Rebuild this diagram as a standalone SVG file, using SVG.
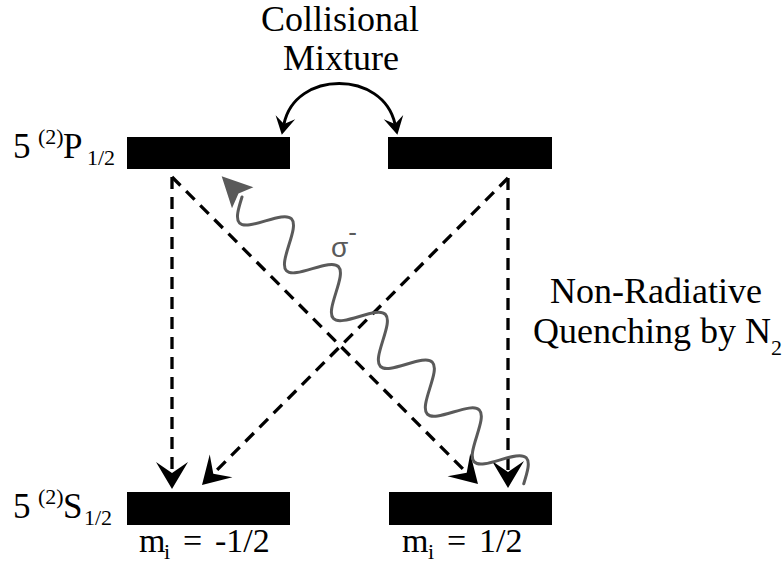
<svg xmlns="http://www.w3.org/2000/svg" width="783" height="567" viewBox="0 0 783 567">
<style>
.bar{fill:#000}
.dash{fill:none;stroke:#000;stroke-width:3.3;stroke-dasharray:12 8}
.arc{fill:none;stroke:#000;stroke-width:3}
.wave{fill:none;stroke:#5a5a5a;stroke-width:3;stroke-linecap:round}
.serif{font-family:Liberation Serif,DejaVu Serif,Times New Roman,serif}
</style>
<defs>
<marker id="ah" markerUnits="userSpaceOnUse" markerWidth="30" markerHeight="34" viewBox="0 -17 30 34" refX="11" refY="0" orient="auto">
<path d="M27,0 L0,-16 L11,0 L0,16 Z" fill="#000"/>
</marker>
<marker id="ahs" markerUnits="userSpaceOnUse" markerWidth="20" markerHeight="22" viewBox="0 -11 20 22" refX="7" refY="0" orient="auto-start-reverse">
<path d="M18,0 L0,-10 L7,0 L0,10 Z" fill="#000"/>
</marker>
</defs>
<rect width="783" height="567" fill="#fff"/>

<g id="P-left"><rect class="bar" x="127" y="137" width="163" height="32"/></g>
<g id="P-right"><rect class="bar" x="388" y="137" width="164" height="32"/></g>
<g id="S-left"><rect class="bar" x="127" y="492" width="163" height="33"/></g>
<g id="S-right"><rect class="bar" x="389" y="492" width="163" height="33"/></g>

<g id="labels" fill="#000">
<text class="serif" font-size="36" x="340" y="31" text-anchor="middle">Collisional</text>
<text class="serif" font-size="36" x="341" y="70" text-anchor="middle">Mixture</text>
<text class="serif" font-size="36" x="656" y="303" text-anchor="middle">Non-Radiative</text>
<text class="serif" font-size="36" x="533" y="343">Quenching by N<tspan font-size="22" dy="12">2</tspan></text>
<text class="serif" font-size="35" y="158"><tspan x="13">5</tspan><tspan x="38" y="144" font-size="22">(2)</tspan><tspan x="63" y="158">P</tspan><tspan x="87" y="165" font-size="22">1/2</tspan></text>
<text class="serif" font-size="35" y="518"><tspan x="13">5</tspan><tspan x="38" y="504" font-size="22">(2)</tspan><tspan x="63" y="518">S</tspan><tspan x="84" y="525" font-size="22">1/2</tspan></text>
<text class="serif" font-size="34" y="552"><tspan x="139">m</tspan><tspan x="164" y="559" font-size="22">i</tspan><tspan x="183" y="552">= </tspan><tspan x="215">-1/2</tspan></text>
<text class="serif" font-size="34" y="552"><tspan x="402">m</tspan><tspan x="428" y="559" font-size="22">i</tspan><tspan x="447" y="552">= </tspan><tspan x="479">1/2</tspan></text>
<text font-family="Liberation Sans, Arial, sans-serif" font-size="28" fill="#5a5a5a" x="331" y="257">σ<tspan font-size="26" dy="-16">-</tspan></text>
</g>

<g id="connectors">
<path class="arc" d="M284,124 C295,70 383,70 395,124" marker-start="url(#ahs)" marker-end="url(#ahs)"/>
<line class="dash" x1="172" y1="177" x2="172" y2="473" marker-end="url(#ah)"/>
<line class="dash" x1="508" y1="178" x2="508" y2="472" marker-end="url(#ah)"/>
<line class="dash" x1="172" y1="177" x2="466.7" y2="472.7" marker-end="url(#ah)"/>
<line class="dash" x1="508" y1="178" x2="213.3" y2="473.7" marker-end="url(#ah)"/>
<g transform="translate(242,197) rotate(45.5)">
<polygon points="-29,0 1,15 -5,0 1,-15" fill="#5a5a5a"/>
<path class="wave" d="M0,0 c5.6,10.5 10.72,20 16.75,20 s11.15,-9.5 16.75,-20 s10.72,-20 16.75,-20 s11.15,9.5 16.75,20 s10.72,20 16.75,20 s11.15,-9.5 16.75,-20 s10.72,-20 16.75,-20 s11.15,9.5 16.75,20 s10.72,20 16.75,20 s11.15,-9.5 16.75,-20 s10.72,-20 16.75,-20 s11.15,9.5 16.75,20 s10.72,20 16.75,20 s11.15,-9.5 16.75,-20 s10.72,-20 16.75,-20 s11.15,9.5 16.75,20 s10.72,20 16.75,20 s11.15,-9.5 16.75,-20 s10.72,-20 16.75,-20 s11.15,9.5 16.75,20 s10.72,20 16.75,20 s11.15,-9.5 16.75,-20 s10.72,-20 16.75,-20 s11.15,9.5 16.75,20"/>
</g>
</g>
</svg>
